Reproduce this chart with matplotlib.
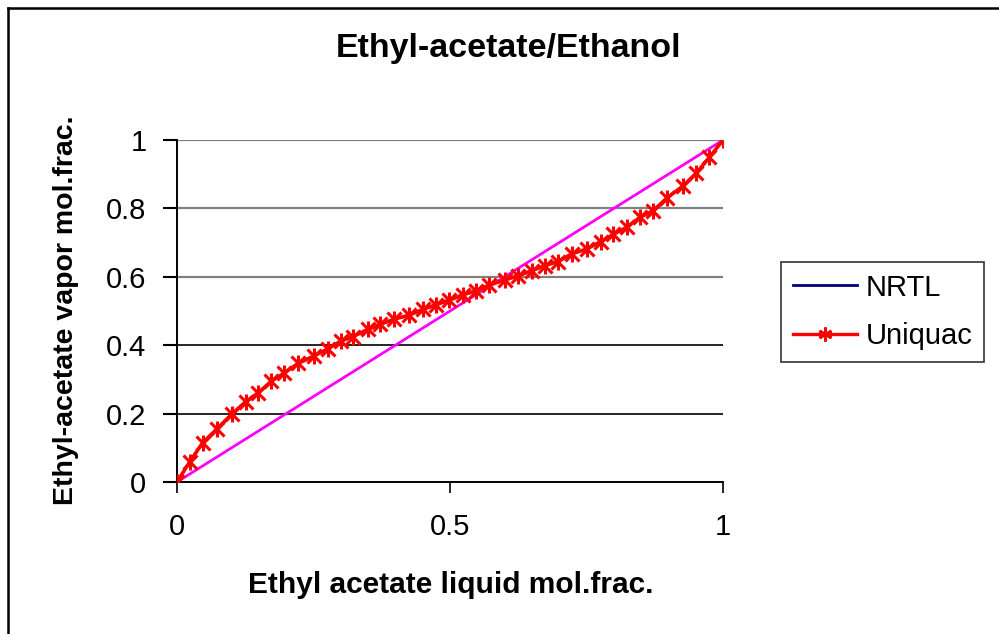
import matplotlib.pyplot as plt
from matplotlib.lines import Line2D

plt.rcParams['font.family'] = ['Liberation Sans', 'DejaVu Sans']

# liquid / vapor mole fractions
x_liq = [0, 0.023, 0.047, 0.073, 0.1, 0.126, 0.149, 0.173, 0.196, 0.222,
         0.25, 0.276, 0.3, 0.322, 0.349, 0.372, 0.398, 0.425, 0.451, 0.474,
         0.499, 0.523, 0.548, 0.572, 0.601, 0.625, 0.65, 0.674, 0.697, 0.723,
         0.75, 0.776, 0.799, 0.824, 0.848, 0.872, 0.897, 0.927, 0.951, 0.975, 1.0]
y_uniquac = [0, 0.058, 0.115, 0.155, 0.198, 0.235, 0.261, 0.295, 0.318, 0.347,
             0.368, 0.389, 0.412, 0.425, 0.446, 0.461, 0.476, 0.488, 0.505, 0.518,
             0.532, 0.547, 0.559, 0.576, 0.591, 0.603, 0.618, 0.633, 0.644, 0.667,
             0.681, 0.703, 0.724, 0.745, 0.774, 0.793, 0.830, 0.866, 0.903, 0.949, 1.0]
y_nrtl = y_uniquac  # hidden under the Uniquac curve

x_diag = [0, 0.1, 0.2, 0.3, 0.4, 0.5, 0.6, 0.7, 0.8, 0.9, 1.0]
y_diag = [0, 0.1, 0.2, 0.3, 0.4, 0.5, 0.6, 0.7, 0.8, 0.9, 1.0]

y_ticks = [0, 0.2, 0.4, 0.6, 0.8, 1.0]
y_tick_labels = ['0', '0.2', '0.4', '0.6', '0.8', '1']
x_ticks = [0, 0.5, 1.0]
x_tick_labels = ['0', '0.5', '1']
grid_colors = ['black', 'black', 'black', '#808080', '#808080', '#808080']

fig = plt.figure(figsize=(9.99, 6.34), dpi=100)
ax = fig.add_axes([177 / 999, 1 - 482 / 634, 546 / 999, 342 / 634])

for yv, c in zip(y_ticks[1:], grid_colors[1:]):
    ax.axhline(yv, color=c, lw=1.6 if c != 'black' else 1.2, zorder=1)

ax.plot(x_diag, y_diag, color='#ff00ff', lw=2.0, zorder=2)
ax.plot(x_liq, y_nrtl, color='#000080', lw=1.5, zorder=2)
ax.plot(x_liq, y_uniquac, color='red', lw=2.6, marker='x', ms=10, mew=2.2, zorder=3)
ax.plot(x_liq, y_uniquac, color='red', lw=0, marker='|', ms=11, mew=2.2, zorder=3)

ax.set_xlim(0, 1)
ax.set_ylim(0, 1)
ax.set_xticks(x_ticks)
ax.set_xticklabels(x_tick_labels, fontsize=21)
ax.set_yticks(y_ticks)
ax.set_yticklabels(y_tick_labels, fontsize=21)
ax.tick_params(axis='x', direction='out', length=8, width=1.2, pad=14)
ax.tick_params(axis='y', direction='out', length=10, width=1.5, pad=12)
for t, c in zip(ax.yaxis.get_major_ticks(), grid_colors):
    t.tick1line.set_color(c)
for s in ['top', 'right']:
    ax.spines[s].set_visible(False)
ax.spines['left'].set_linewidth(1.4)
ax.spines['bottom'].set_linewidth(1.4)

fig.text(509 / 999, 1 - 48 / 634, 'Ethyl-acetate/Ethanol', fontsize=24.5,
         fontweight='bold', ha='center', va='center')
fig.text(451 / 999, 1 - 585 / 634, 'Ethyl acetate liquid mol.frac.', fontsize=21.5,
         fontweight='bold', ha='center', va='center')
fig.text(66 / 999, 1 - 310 / 634, 'Ethyl-acetate vapor mol.frac.', fontsize=20.5,
         fontweight='bold', ha='center', va='center', rotation=90)

handles = [Line2D([], [], color='#000080', lw=2),
           Line2D([], [], color='red', lw=2.4, marker=(6, 2, 0), ms=10, mew=2)]
leg = fig.legend(handles, ['NRTL', 'Uniquac'], loc='upper left',
                 bbox_to_anchor=(781 / 999, 1 - 262 / 634), fontsize=21,
                 frameon=True, fancybox=False, edgecolor='black',
                 handlelength=2.2, borderpad=0.4, labelspacing=0.7,
                 handletextpad=0.3, borderaxespad=0)
leg.get_frame().set_linewidth(1.2)

# outer chart border (only top and left edges show)
fig.add_artist(Line2D([8 / 999, 1], [1 - 8 / 634, 1 - 8 / 634], color='black', lw=1.8))
fig.add_artist(Line2D([8 / 999, 8 / 999], [0, 1 - 8 / 634], color='black', lw=1.8))

fig.savefig('out.png', dpi=100)
